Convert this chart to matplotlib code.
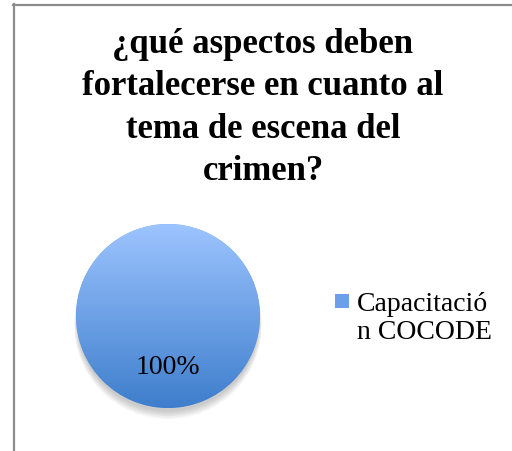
import matplotlib
matplotlib.use('Agg')
import matplotlib.pyplot as plt
from matplotlib.lines import Line2D
from matplotlib.patches import Circle, Rectangle
import numpy as np

titulo = "¿qué aspectos deben\nfortalecerse en cuanto al\ntema de escena del\ncrimen?"
categorias = ['Capacitació\nn COCODE']
valores = [100]

fig = plt.figure(figsize=(5.12, 4.51), dpi=100)

# borde del area del grafico (solo izquierda y arriba visibles)
fig.add_artist(Line2D([13.5/512, 13.5/512], [0, 1 - 4/451], color='#8c8c8c', lw=1.6))
fig.add_artist(Line2D([13/512, 1], [1 - 4.5/451, 1 - 4.5/451], color='#8c8c8c', lw=1.6))

fig.text(263/512, 1 - 28/451, titulo, ha='center', va='top', fontsize=25,
         fontweight='bold', family='Liberation Serif', linespacing=1.37)

cx, cy, r = 168, 316, 92
ax = fig.add_axes([(cx - r)/512, (451 - cy - r)/451, 2*r/512, 2*r/451])

# sombra
for k in range(6):
  ax.add_patch(Circle((0, -0.05 - 0.01*k), 0.99 + 0.006*k, color='black', alpha=0.035, lw=0, zorder=0, clip_on=False))

wedges, textos, autotextos = ax.pie(valores, startangle=90, autopct='%1.0f%%', pctdistance=0.565,
                                    colors=['#6d9eea'], textprops=dict(fontsize=20, family='Liberation Serif'))

# degradado vertical
grad = np.linspace(0, 1, 256).reshape(-1, 1)
cmap = matplotlib.colors.LinearSegmentedColormap.from_list('azul', ['#3e7ecc', '#9dc4ff'])
img = ax.imshow(grad, extent=[-1, 1, -1, 1], origin='lower', cmap=cmap, aspect='auto', zorder=1)
img.set_clip_path(wedges[0])
for t in autotextos:
  t.set_zorder(3)

ax.set_xlim(-1, 1)
ax.set_ylim(-1, 1)
ax.set_aspect('equal')
ax.axis('off')

# leyenda
for i, etiqueta in enumerate(categorias):
  fig.add_artist(Rectangle((335/512, 1 - 308/451), 14/512, 14/451, transform=fig.transFigure,
                           facecolor='#6d9eea', edgecolor='none'))
  fig.text(357/512, 1 - 292/451, etiqueta, ha='left', va='top', fontsize=20,
           family='Liberation Serif', linespacing=1.15)

fig.savefig('out.png', dpi=100, facecolor='white')
